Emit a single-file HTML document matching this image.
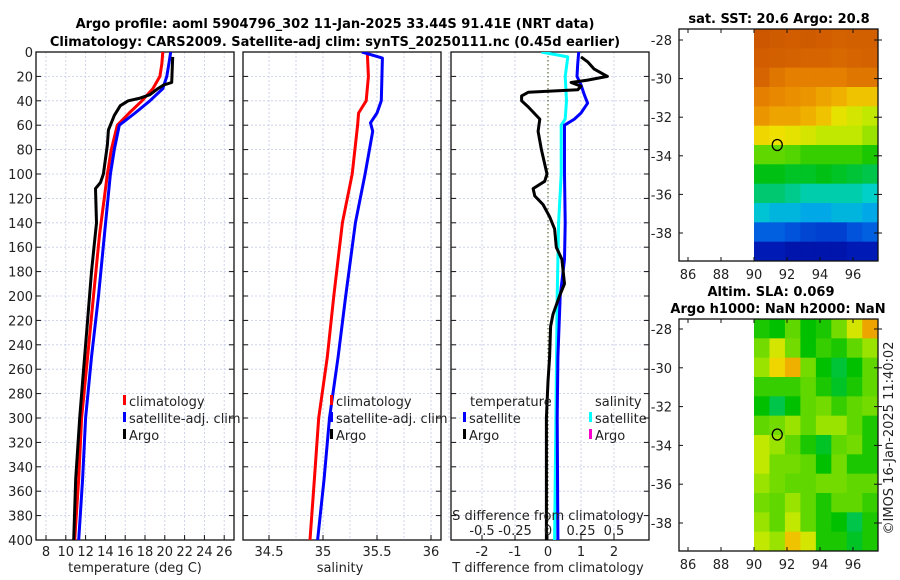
<!DOCTYPE html>
<html><head><meta charset="utf-8"><style>
html,body{margin:0;padding:0;background:#fff;}
svg{display:block;font-family:"DejaVu Sans","Liberation Sans",sans-serif;}
</style></head><body>
<svg id="fig" width="900" height="580" viewBox="0 0 900 580" xmlns="http://www.w3.org/2000/svg">
<text x="335" y="28" text-anchor="middle" font-size="13" font-weight="bold">Argo profile: aoml 5904796_302 11-Jan-2025 33.44S 91.41E (NRT data)</text>
<text x="335" y="46" text-anchor="middle" font-size="13" font-weight="bold">Climatology: CARS2009. Satellite-adj clim: synTS_20250111.nc (0.45d earlier)</text>
<text x="779" y="23" text-anchor="middle" font-size="13" font-weight="bold">sat. SST: 20.6 Argo: 20.8</text>
<text x="771" y="296" text-anchor="middle" font-size="13" font-weight="bold">Altim. SLA: 0.069</text>
<text x="778" y="313" text-anchor="middle" font-size="13" font-weight="bold">Argo h1000: NaN h2000: NaN</text>
<text transform="translate(893,438) rotate(-90)" text-anchor="middle" font-size="13" fill="#222">©IMOS 16-Jan-2025 11:40:02</text>
<g id="g"></g>
</svg>
<script>
// ---- data ----
const depthTicks=[0,20,40,60,80,100,120,140,160,180,200,220,240,260,280,300,320,340,360,380,400];
const tempTicks=[8,10,12,14,16,18,20,22,24,26];
const salTicks=[34.5,35,35.5,36];
const tdiffTicks=[-2,-1,0,1,2];
const sdiffTicks=[-0.5,-0.25,0,0.25,0.5];
const sdiffTickLabels=["-0.5","-0.25","0","0.25","0.5"];
const tempClimDepth=[0,10,20,30,40,50,60,80,100,150,200,250,300,350,400];
const tempClimVal=[19.8,19.7,19.5,18.8,17.7,16.4,15.2,14.6,14.2,13.4,12.8,12.2,11.6,11.3,10.9];
const tempSatDepth=[0,10,20,30,40,50,60,80,100,150,200,250,300,350,400];
const tempSatVal=[20.6,20.4,20.2,19.8,18.5,17.0,15.4,14.9,14.5,13.9,13.3,12.6,12.0,11.7,11.3];
const tempArgoDepth=[4,25,27,30,35,38,40,44,52,64,76,100,107,112,140,180,220,260,300,350,400];
const tempArgoVal=[20.8,20.7,19.9,19.3,18.5,17.4,16.3,15.5,14.9,14.3,14.2,13.8,13.5,13.0,13.1,12.6,12.2,11.8,11.4,11.0,10.8];
const salClimDepth=[0,20,40,50,60,100,140,200,250,300,350,400];
const salClimVal=[35.41,35.42,35.40,35.33,35.32,35.27,35.18,35.10,35.04,34.96,34.92,34.88];
const salSatDepth=[0,5,40,50,58,65,100,140,200,250,300,350,400];
const salSatVal=[35.36,35.55,35.54,35.50,35.44,35.46,35.39,35.30,35.21,35.14,35.06,35.01,34.95];
const sdSatDepth=[0,4,20,40,55,60,100,140,200,300,400];
const sdSatVal=[-0.05,0.15,0.13,0.14,0.13,0.10,0.10,0.08,0.07,0.06,0.05];
const tdSatDepth=[0,10,20,27,35,42,50,55,60,100,140,170,200,250,300,400];
const tdSatVal=[0.93,0.9,0.88,1.0,1.1,1.2,1.0,0.8,0.5,0.5,0.52,0.5,0.37,0.3,0.28,0.3];
const tdArgoDepth=[4,8,14,20,23,25,28,31,33,36,40,45,55,65,80,100,106,112,118,125,135,145,160,170,190,200,215,225,250,270,300,400];
const tdArgoVal=[1.0,1.2,1.4,1.8,1.2,0.7,1.0,0.9,-0.6,-0.8,-0.8,-0.6,-0.25,-0.3,-0.2,-0.03,-0.1,-0.45,-0.4,-0.15,0.05,0.2,0.25,0.42,0.5,0.35,0.15,0.08,0.05,0.0,-0.05,-0.05];
const lonTicks=[86,88,90,92,94,96];
const latTicks=[-28,-30,-32,-34,-36,-38];
const sstGrid=[
[0.9,0.88,0.87,0.88,0.87,0.85,0.86,0.86],
[0.87,0.86,0.85,0.84,0.84,0.83,0.84,0.85],
[0.84,0.8,0.78,0.78,0.78,0.78,0.8,0.8],
[0.78,0.76,0.75,0.74,0.72,0.7,0.68,0.68],
[0.74,0.72,0.72,0.7,0.68,0.64,0.62,0.6],
[0.66,0.65,0.64,0.62,0.6,0.6,0.6,0.58],
[0.55,0.55,0.54,0.52,0.52,0.52,0.52,0.5],
[0.47,0.47,0.46,0.46,0.47,0.46,0.45,0.44],
[0.42,0.42,0.4,0.38,0.38,0.38,0.38,0.36],
[0.34,0.32,0.32,0.3,0.3,0.32,0.32,0.3],
[0.22,0.22,0.2,0.18,0.17,0.17,0.2,0.22],
[0.1,0.1,0.08,0.08,0.08,0.08,0.1,0.1]];
const slaGrid=[
[0.5,0.48,0.55,0.48,0.5,0.56,0.62,0.72],
[0.56,0.62,0.56,0.48,0.52,0.5,0.55,0.58],
[0.58,0.66,0.7,0.56,0.48,0.45,0.48,0.55],
[0.52,0.52,0.52,0.55,0.5,0.46,0.5,0.55],
[0.48,0.44,0.48,0.55,0.56,0.52,0.55,0.56],
[0.55,0.56,0.58,0.55,0.58,0.58,0.55,0.5],
[0.6,0.58,0.55,0.5,0.46,0.55,0.56,0.5],
[0.6,0.56,0.56,0.55,0.48,0.56,0.5,0.5],
[0.58,0.56,0.55,0.55,0.56,0.56,0.55,0.55],
[0.56,0.55,0.58,0.55,0.5,0.55,0.55,0.52],
[0.58,0.55,0.6,0.55,0.5,0.48,0.44,0.5],
[0.6,0.58,0.68,0.62,0.5,0.5,0.46,0.5]];
const argoLon=91.41, argoLat=-33.44;

// ---- helpers ----
const NS="http://www.w3.org/2000/svg";
const G=document.getElementById('g');
function mk(tag,attrs,parent){const e=document.createElementNS(NS,tag);for(const k in attrs)e.setAttribute(k,attrs[k]);(parent||G).appendChild(e);return e;}
const PT=52,PB=540;
const yD=d=>PT+(d/400)*(PB-PT);
const xT=t=>46+(t-8)*9.9;
const xS=s=>323+(s-35)*108;
const xTD=v=>548+v*33;
const xSD=v=>548+v*132;

function frame(name,x0,x1){
  const r=mk('rect',{x:x0,y:PT,width:x1-x0,height:PB-PT,fill:'none',stroke:'#111','stroke-width':1.3});
  
  depthTicks.forEach(d=>{
    const y=yD(d);
    if(d>0&&d<400){const l=mk('line',{x1:x0,x2:x1,y1:y,y2:y,stroke:'#c4cbe6','stroke-width':0.8,'stroke-dasharray':'2,2'});}
    const t1=mk('line',{x1:x0,x2:x0+5,y1:y,y2:y,stroke:'#111'});
    const t2=mk('line',{x1:x1-5,x2:x1,y1:y,y2:y,stroke:'#111'});
  });
}
function vgrid(xs,fn){xs.forEach(v=>{const x=fn(v);const l=mk('line',{x1:x,x2:x,y1:PT,y2:PB,stroke:'#c4cbe6','stroke-width':0.8,'stroke-dasharray':'2,2'});});}
function txt(name,x,y,s,opt){const t=mk('text',Object.assign({x:x,y:y,'font-size':13,fill:'#222'},opt||{}));t.textContent=s;return t;}
function legend(name,x,y,color,label){
  const m=mk('rect',{x:x,y:y-6,width:3,height:10,fill:color});
  txt(name+'-label',x+6,y+5,label);
}

const defs=mk('defs',{});
[['c1',36,234],['c2',243,441],['c3',451,649]].forEach(c=>{const cp=mk('clipPath',{id:c[0]},defs);mk('rect',{x:c[1],y:PT,width:c[2]-c[1],height:PB-PT},cp);});

depthTicks.forEach(d=>txt('y-tick-label',33,yD(d)+5,String(d),{'text-anchor':'end'}));

// Panel 1 temperature
vgrid([8,10,12,14,16,18,20,22,24,26],xT);
frame('temperature-panel',36,234);
tempTicks.forEach(t=>{txt('temp-tick-label',xT(t),556,String(t),{'text-anchor':'middle'});const l=mk('line',{x1:xT(t),x2:xT(t),y1:PB,y2:PB-5,stroke:'#111'});});
txt('temp-x-axis-title',135,572,'temperature (deg C)',{'text-anchor':'middle'});
const g1=mk('g',{'clip-path':'url(#c1)'});
[['temp-climatology-line',tempClimDepth,tempClimVal,'#f00'],['temp-satellite-line',tempSatDepth,tempSatVal,'#00f'],['temp-argo-line',tempArgoDepth,tempArgoVal,'#000']].forEach(a=>{
  const d=a[1].map((dd,i)=>(i?'L':'M')+xT(a[2][i]).toFixed(1)+','+yD(dd).toFixed(1)).join('');
  const p=mk('path',{d:d,fill:'none',stroke:a[3],'stroke-width':3,'stroke-linejoin':'round'},g1);
});
legend('temp-legend-climatology',123,401,'#f00','climatology');
legend('temp-legend-satellite',123,418,'#00f','satellite-adj. clim');
legend('temp-legend-argo',123,435,'#000','Argo');

// Panel 2 salinity
vgrid([34.5,34.75,35,35.25,35.5,35.75,36],xS);
frame('salinity-panel',243,441);
salTicks.forEach(t=>{txt('sal-tick-label',xS(t),556,String(t),{'text-anchor':'middle'});const l=mk('line',{x1:xS(t),x2:xS(t),y1:PB,y2:PB-5,stroke:'#111'});});
txt('sal-x-axis-title',340,572,'salinity',{'text-anchor':'middle'});
const g2=mk('g',{'clip-path':'url(#c2)'});
[['sal-climatology-line',salClimDepth,salClimVal,'#f00'],['sal-satellite-line',salSatDepth,salSatVal,'#00f']].forEach(a=>{
  const d=a[1].map((dd,i)=>(i?'L':'M')+xS(a[2][i]).toFixed(1)+','+yD(dd).toFixed(1)).join('');
  const p=mk('path',{d:d,fill:'none',stroke:a[3],'stroke-width':3,'stroke-linejoin':'round'},g2);
});
legend('sal-legend-climatology',330,401,'#f00','climatology');
legend('sal-legend-satellite',330,418,'#00f','satellite-adj. clim');
legend('sal-legend-argo',330,435,'#000','Argo');

// Panel 3 differences
vgrid([-3,-2,-1,1,2],xTD);
frame('difference-panel',451,649);
const z=mk('line',{x1:xTD(0),x2:xTD(0),y1:PT,y2:PB,stroke:'#3a4a10','stroke-width':1,'stroke-dasharray':'1.5,2.5'});
tdiffTicks.forEach(t=>{txt('tdiff-tick-label',xTD(t),556,String(t),{'text-anchor':'middle'});const l=mk('line',{x1:xTD(t),x2:xTD(t),y1:PB,y2:PB-5,stroke:'#111'});});
txt('tdiff-x-axis-title',548,572,'T difference from climatology',{'text-anchor':'middle'});
const g3=mk('g',{'clip-path':'url(#c3)'});
[['sdiff-satellite-line',sdSatDepth,sdSatVal,'#0ff',xSD],['tdiff-satellite-line',tdSatDepth,tdSatVal,'#00f',xTD],['tdiff-argo-line',tdArgoDepth,tdArgoVal,'#000',xTD]].forEach(a=>{
  const d=a[1].map((dd,i)=>(i?'L':'M')+a[4](a[2][i]).toFixed(1)+','+yD(dd).toFixed(1)).join('');
  const p=mk('path',{d:d,fill:'none',stroke:a[3],'stroke-width':3,'stroke-linejoin':'round'},g3);
});
txt('diff-legend-temperature-heading',470,406,'temperature');
legend('diff-legend-temp-satellite',463,418,'#00f','satellite');
legend('diff-legend-temp-argo',463,435,'#000','Argo');
txt('diff-legend-salinity-heading',595,406,'salinity');
legend('diff-legend-sal-satellite',589,418,'#0ff','satellite');
legend('diff-legend-sal-argo',589,435,'#f0c','Argo');
txt('sdiff-axis-title',548,520,'S difference from climatology',{'text-anchor':'middle'});
sdiffTicks.forEach((t,i)=>txt('sdiff-tick-label',xSD(t),535,sdiffTickLabels[i],{'text-anchor':'middle'}));

// ---- maps ----
const cmapPos=[0,0.12,0.22,0.3,0.36,0.42,0.48,0.55,0.6,0.65,0.7,0.76,0.84,0.95,1];
const cmapCol=[[0,0,128],[0,32,192],[0,96,224],[0,168,232],[0,208,200],[0,200,112],[0,192,0],[96,216,0],[192,232,0],[240,224,0],[240,176,0],[232,136,0],[214,100,0],[196,76,0],[180,60,0]];
function cmap(v){
  v=Math.max(0,Math.min(1,v));
  for(let i=1;i<cmapPos.length;i++){if(v<=cmapPos[i]){const f=(v-cmapPos[i-1])/(cmapPos[i]-cmapPos[i-1]);const a=cmapCol[i-1],b=cmapCol[i];
    return 'rgb('+a.map((c,k)=>Math.round(c+(b[k]-c)*f)).join(',')+')';}}
  return 'rgb(180,60,0)';
}
function map(name,top,bot,lat28y,lat38y,grid){
  const L=679,R=878;
  const xL=lon=>754+(lon-90)*16.5;
  const yL=lat=>lat28y+(-28-lat)*(lat38y-lat28y)/10;
  const latTop=-28-(top-lat28y)*10/(lat38y-lat28y);
  const latBot=-28-(bot-lat28y)*10/(lat38y-lat28y);
  const nr=grid.length,nc=grid[0].length;
  const dLat=(latTop-latBot)/nr,dLon=7.5/nc;
  grid.forEach((row,i)=>row.forEach((v,j)=>{
    const x0=xL(90+j*dLon),x1=xL(90+(j+1)*dLon),y0=yL(latTop-i*dLat),y1=yL(latTop-(i+1)*dLat);
    const r=mk('rect',{x:x0.toFixed(2),y:y0.toFixed(2),width:(Math.min(x1+0.5,R)-x0).toFixed(2),height:(Math.min(y1+0.5,bot)-y0).toFixed(2),fill:cmap(v)});
    
  }));
  const f=mk('rect',{x:L,y:top,width:R-L,height:bot-top,fill:'none',stroke:'#111','stroke-width':1.3});
  
  lonTicks.forEach(l=>{txt(name+'-lon-tick-label',xL(l),bot+18,String(l),{'text-anchor':'middle'});
    const a=mk('line',{x1:xL(l),x2:xL(l),y1:bot,y2:bot-4,stroke:'#111'});
    const b=mk('line',{x1:xL(l),x2:xL(l),y1:top,y2:top+4,stroke:'#111'});});
  latTicks.forEach(l=>{txt(name+'-lat-tick-label',672,yL(l)+5,String(l),{'text-anchor':'end'});
    const a=mk('line',{x1:L,x2:L+4,y1:yL(l),y2:yL(l),stroke:'#111'});
    const b=mk('line',{x1:R-4,x2:R+4,y1:yL(l),y2:yL(l),stroke:'#111'});});
  const c=mk('ellipse',{cx:xL(argoLon),cy:yL(argoLat),rx:5,ry:5.5,fill:'none',stroke:'#000','stroke-width':1.3});
  
}
map('sst-map',29,261,40,233,sstGrid);
map('sla-map',319,551,329,523,slaGrid);
</script>
</body></html>
